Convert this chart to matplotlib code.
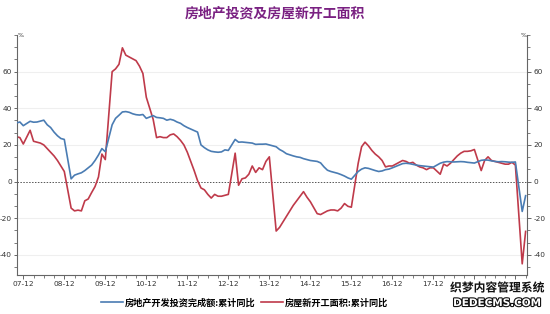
import matplotlib
matplotlib.use("Agg")
import matplotlib.pyplot as plt
import matplotlib.patheffects as pe
from matplotlib.ticker import MultipleLocator, AutoMinorLocator, FixedLocator
import pandas as pd

plt.rcParams['font.family'] = ['Noto Sans CJK SC', 'DejaVu Sans']
plt.rcParams['axes.unicode_minus'] = False

# months shown (Chinese cumulative data skips January)
months = [p for p in pd.period_range('2007-10', '2020-03', freq='M') if p.month != 1]

# 房地产开发投资完成额:累计同比 (%)
invest = [
    32.0, 32.5, 30.5,
    32.9, 32.4, 32.5, 33.0, 33.5, 31.0, 29.5, 27.0, 25.0, 23.5, 23.0,
    1.5, 3.5, 4.2, 4.8, 6.0, 7.5, 9.0, 11.5, 14.5, 18.0, 16.3,
    31.0, 34.5, 36.2, 38.0, 38.2, 37.8, 37.0, 36.5, 36.3, 36.6, 34.5,
    36.0, 35.0, 34.8, 34.5, 33.5, 34.0, 33.5, 32.5, 31.8, 30.5, 29.5,
    27.8, 27.0, 20.0, 18.5, 17.3, 16.5, 16.2, 16.0, 16.2, 17.3, 17.0,
    23.0, 21.5, 21.6, 21.4, 21.2, 21.0, 20.3, 20.4, 20.4, 20.5, 20.0,
    19.0, 17.5, 16.5, 15.2, 14.6, 14.0, 13.5, 13.2, 12.5, 12.0, 11.5,
    11.0, 10.2, 8.0, 6.2, 5.5, 5.0, 4.5, 3.8, 3.0, 2.0, 1.3,
    5.5, 6.8, 7.5, 7.2, 6.6, 6.0, 5.5, 5.8, 6.5, 6.8, 7.5,
    9.0, 9.8, 10.0, 9.8, 9.4, 9.0, 8.7, 8.5, 8.3, 8.1, 7.9,
    10.0, 10.6, 10.9, 10.8, 10.7, 10.8, 10.9, 10.8, 10.5, 10.3, 10.1,
    11.6, 11.8, 11.7, 11.3, 11.0, 10.8, 10.9, 10.8, 10.6, 10.5, 10.7,
    -16.3, -7.7,
]

# 房屋新开工面积:累计同比 (%)
starts = [
    24.5, 24.0, 20.5,
    28.0, 22.0, 21.5, 21.0, 20.0, 18.0, 16.0, 14.0, 11.5, 8.5, 5.5,
    -14.5, -16.0, -15.6, -16.0, -10.5, -9.5, -6.0, -2.7, 2.5, 15.0, 12.0,
    60.0, 61.5, 64.0, 73.0, 69.0, 68.0, 67.0, 66.0, 63.0, 59.0, 46.0,
    34.0, 24.0, 24.5, 24.0, 24.0, 25.5, 26.0, 24.5, 22.5, 20.0, 16.0,
    6.0, 0.5, -3.5, -4.5, -7.0, -9.0, -7.0, -8.0, -8.0, -7.5, -7.0,
    15.5, -2.0, 1.5, 2.0, 4.0, 8.5, 5.0, 7.5, 6.5, 11.0, 13.5,
    -27.0, -25.0, -22.0, -19.0, -16.0, -13.0, -10.5, -8.0, -5.5, -8.5, -11.0,
    -17.5, -18.0, -17.0, -16.0, -15.5, -15.5, -16.0, -14.5, -12.0, -13.5, -14.0,
    10.0, 19.0, 21.5, 19.5, 17.0, 15.0, 13.5, 11.5, 8.0, 8.5, 8.5,
    10.5, 11.5, 11.0, 10.0, 10.5, 9.0, 8.0, 7.5, 6.5, 7.5, 7.5,
    4.0, 9.5, 8.5, 10.0, 12.0, 14.0, 15.5, 16.5, 16.5, 16.8, 17.5,
    6.0, 11.5, 13.5, 11.5, 11.0, 10.5, 10.0, 9.5, 9.5, 10.5, 9.0,
    -44.9, -27.2,
]

# the last two year labels sit under the watermark in the original
year_labels = ['07-12', '08-12', '09-12', '10-12', '11-12', '12-12', '13-12',
               '14-12', '15-12', '16-12', '17-12', '', '']

title = '房地产投资及房屋新开工面积'
names = ['房地产开发投资完成额:累计同比', '房屋新开工面积:累计同比']
colors = ['#4a7cb3', '#bf3a4a']

# month index counted from 2007-12
x = [(p.year - 2007) * 12 + p.month - 12 for p in months]

fig = plt.figure(figsize=(5.5, 3.14), dpi=100)
ax = fig.add_axes([17 / 550, 1 - 275 / 314, 510 / 550, 240 / 314])

for y in [-40, -20, 20, 40, 60]:
    ax.axhline(y, color='#efefef', lw=0.8, zorder=0)
ax.axhline(0, color='#555555', lw=0.7, ls=(0, (1.5, 1.5)), zorder=1)

ax.plot(x, invest, color=colors[0], lw=1.2, label=names[0], zorder=3)
ax.plot(x, starts, color=colors[1], lw=1.2, label=names[1], zorder=2)

ax.set_xlim(-1.84, 147.4)
ax.set_ylim(-51, 80)

ax.xaxis.set_major_locator(FixedLocator([12 * i for i in range(len(year_labels))]))
ax.set_xticklabels(year_labels)
ax.xaxis.set_minor_locator(MultipleLocator(3))
ax.yaxis.set_major_locator(FixedLocator([-40, -20, 0, 20, 40, 60]))
ax.yaxis.set_minor_locator(AutoMinorLocator(3))

for s in ['top', 'right']:
    ax.spines[s].set_visible(False)
for s in ['left', 'bottom']:
    ax.spines[s].set_color('#666666')
    ax.spines[s].set_linewidth(0.8)

ax.tick_params(axis='x', which='major', labelsize=5.3, colors='#666666',
               labelcolor='#333333', length=3, width=0.7, pad=1.5)
ax.tick_params(axis='y', which='major', labelsize=5.3, colors='#666666',
               labelcolor='#333333', length=2.5, width=0.7, pad=1)
ax.tick_params(axis='both', which='minor', colors='#666666', length=2, width=0.6)
for lab in ax.get_xticklabels() + ax.get_yticklabels():
    lab.set_family('DejaVu Sans')

ax2 = ax.twinx()
ax2.set_ylim(ax.get_ylim())
ax2.yaxis.set_major_locator(FixedLocator([-40, -20, 0, 20, 40, 60]))
ax2.yaxis.set_minor_locator(AutoMinorLocator(3))
for s in ['top', 'left', 'bottom']:
    ax2.spines[s].set_visible(False)
ax2.spines['right'].set_color('#666666')
ax2.spines['right'].set_linewidth(0.8)
ax2.tick_params(axis='y', which='major', labelsize=5.3, colors='#666666',
                labelcolor='#333333', length=3, width=0.7, pad=1.5)
ax2.tick_params(axis='y', which='minor', colors='#666666', length=2, width=0.6)
for lab in ax2.get_yticklabels():
    lab.set_family('DejaVu Sans')

fig.text(18 / 550, 1 - 37 / 314, '%', fontsize=4.5, color='#333333', family='DejaVu Sans')
fig.text(521 / 550, 1 - 37 / 314, '%', fontsize=4.5, color='#333333', family='DejaVu Sans')

fig.text(0.5, 1 - 14 / 314, title, ha='center', va='center', fontsize=10,
         fontweight='bold', color='#7a2182')

fig.legend(loc='center', bbox_to_anchor=(245 / 550, 1 - 303 / 314), ncol=2, frameon=False,
           prop={'size': 6.6, 'weight': 'bold'}, handlelength=2.4, handletextpad=0.2,
           columnspacing=0.6)

# site watermark in the corner
wm = [pe.withStroke(linewidth=2, foreground='white')]
fig.text(497 / 550, 1 - 288 / 314, '织梦内容管理系统', ha='center', va='center',
         fontsize=8.5, fontweight='bold', color='#111111', path_effects=wm)
fig.text(497 / 550, 1 - 303 / 314, 'DEDECMS.COM', ha='center', va='center',
         fontsize=7.5, fontweight='bold', color='white', family='DejaVu Sans',
         path_effects=[pe.withStroke(linewidth=1.6, foreground='#111111')])

fig.savefig('out.png', dpi=100)
